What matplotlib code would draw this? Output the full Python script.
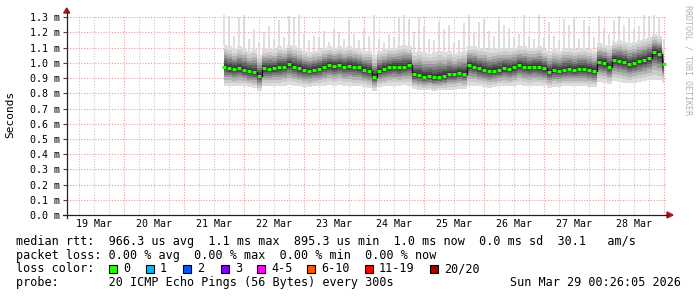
import numpy as np
import matplotlib
matplotlib.use("Agg")
import matplotlib.pyplot as plt
from matplotlib.patches import Polygon, Rectangle

# time axis: hours since 19 Mar 00:00, one value every 2 hours (21 Mar 16:00 .. 29 Mar 00:00)
hours = np.arange(64, 241, 2)

# median rtt (ms)
rtt_median = [
    0.975, 0.965, 0.960, 0.965, 0.955, 0.945, 0.940, 0.915, 0.965, 0.960,
    0.965, 0.970, 0.975, 0.990, 0.975, 0.965, 0.955, 0.950, 0.955, 0.960,
    0.975, 0.985, 0.980, 0.985, 0.975, 0.980, 0.975, 0.970, 0.955, 0.950,
    0.910, 0.950, 0.960, 0.970, 0.975, 0.970, 0.975, 0.985, 0.925, 0.920,
    0.910, 0.915, 0.905, 0.910, 0.915, 0.925, 0.925, 0.935, 0.930, 0.985,
    0.975, 0.965, 0.955, 0.945, 0.950, 0.955, 0.965, 0.960, 0.970, 0.985,
    0.975, 0.970, 0.975, 0.970, 0.965, 0.940, 0.955, 0.950, 0.955, 0.960,
    0.955, 0.960, 0.960, 0.955, 0.945, 1.005, 1.000, 0.975, 1.020, 1.015,
    1.005, 0.990, 1.000, 1.010, 1.020, 1.035, 1.070, 1.060, 0.990,
]
# lowest ping of the smoke (ms)
rtt_low = [
    0.845, 0.850, 0.845, 0.850, 0.845, 0.840, 0.835, 0.815, 0.845, 0.850,
    0.850, 0.845, 0.850, 0.855, 0.850, 0.845, 0.840, 0.840, 0.845, 0.850,
    0.850, 0.855, 0.850, 0.855, 0.850, 0.850, 0.845, 0.845, 0.840, 0.835,
    0.815, 0.840, 0.845, 0.850, 0.850, 0.850, 0.855, 0.850, 0.830, 0.825,
    0.820, 0.820, 0.815, 0.820, 0.820, 0.825, 0.825, 0.830, 0.830, 0.850,
    0.850, 0.845, 0.840, 0.835, 0.840, 0.845, 0.850, 0.845, 0.850, 0.855,
    0.850, 0.845, 0.850, 0.850, 0.845, 0.835, 0.840, 0.840, 0.845, 0.845,
    0.845, 0.845, 0.845, 0.840, 0.840, 0.875, 0.870, 0.860, 0.880, 0.875,
    0.870, 0.865, 0.870, 0.875, 0.880, 0.885, 0.890, 0.885, 0.870,
]
# upper edge of the dense smoke (ms)
rtt_high = [
    1.12, 1.11, 1.09, 1.11, 1.10, 1.08, 1.09, 1.05, 1.09, 1.10,
    1.09, 1.11, 1.10, 1.12, 1.11, 1.10, 1.08, 1.07, 1.08, 1.09,
    1.10, 1.11, 1.10, 1.11, 1.10, 1.11, 1.10, 1.09, 1.08, 1.08,
    1.05, 1.08, 1.09, 1.10, 1.10, 1.11, 1.12, 1.11, 1.07, 1.08,
    1.07, 1.06, 1.07, 1.08, 1.07, 1.08, 1.06, 1.07, 1.08, 1.11,
    1.11, 1.10, 1.10, 1.09, 1.09, 1.10, 1.10, 1.10, 1.10, 1.11,
    1.11, 1.10, 1.10, 1.11, 1.09, 1.08, 1.09, 1.08, 1.10, 1.10,
    1.09, 1.10, 1.10, 1.09, 1.08, 1.13, 1.12, 1.11, 1.14, 1.15,
    1.14, 1.13, 1.14, 1.15, 1.16, 1.17, 1.19, 1.18, 1.10,
]
# highest ping (spikes, ms)
rtt_max = [
    1.32, 1.31, 1.18, 1.30, 1.32, 1.16, 1.22, 1.14, 1.20, 1.24,
    1.16, 1.28, 1.17, 1.31, 1.30, 1.32, 1.19, 1.15, 1.18, 1.17,
    1.21, 1.14, 1.22, 1.20, 1.16, 1.28, 1.19, 1.15, 1.22, 1.18,
    1.32, 1.16, 1.14, 1.19, 1.17, 1.30, 1.32, 1.29, 1.20, 1.30,
    1.24, 1.16, 1.15, 1.27, 1.22, 1.25, 1.14, 1.15, 1.26, 1.32,
    1.20, 1.27, 1.29, 1.21, 1.18, 1.28, 1.25, 1.23, 1.17, 1.19,
    1.32, 1.18, 1.16, 1.32, 1.17, 1.27, 1.18, 1.15, 1.29, 1.25,
    1.30, 1.16, 1.28, 1.24, 1.17, 1.31, 1.22, 1.19, 1.28, 1.31,
    1.25, 1.30, 1.22, 1.24, 1.32, 1.31, 1.32, 1.30, 1.16,
]

day_labels = ['19 Mar', '20 Mar', '21 Mar', '22 Mar', '23 Mar',
              '24 Mar', '25 Mar', '26 Mar', '27 Mar', '28 Mar']
y_ticks = [0.0, 0.1, 0.2, 0.3, 0.4, 0.5, 0.6, 0.7, 0.8, 0.9, 1.0, 1.1, 1.2, 1.3]

loss_labels = ['0', '1', '2', '3', '4-5', '6-10', '11-19', '20/20']
loss_colors = ['#26ff00', '#00b8ff', '#0059ff', '#7e00ff', '#ff00ff', '#ff5500', '#ff0000', '#a10000']
loss_box_x = [109, 146, 183, 221, 257, 307, 365, 430]

W, H = 697, 297
MONO = 'DejaVu Sans Mono'


def fx(x):
    return x / W


def fy(y):
    return 1 - y / H


fig = plt.figure(figsize=(W / 100, H / 100), dpi=100, facecolor='white')
ax = fig.add_axes([fx(66.7), fy(215), 600 / W, 200 / H])
ax.set_xlim(0.97, 240.97)
ax.set_ylim(0, 1.315)
for s in ax.spines.values():
    s.set_visible(False)

# grid
for h in range(6, 241, 6):
    if h % 24 == 0:
        ax.axvline(h, color='#e8a0a0', lw=0.8, ls=(0, (1, 1.5)), zorder=0)
    else:
        ax.axvline(h, color='#c8c8c8', lw=0.8, ls=(0, (1, 1.5)), zorder=0)
for v in y_ticks[1:]:
    ax.axhline(v, color='#e8a0a0', lw=0.8, ls=(0, (1, 1.5)), zorder=0)

# smoke
med = np.array(rtt_median)
lo = np.array(rtt_low)
hi = np.array(rtt_high)
ax.vlines(hours, hi, rtt_max, color='#d6d6d6', lw=1.1, zorder=1)
fracs = [1.0, 0.82, 0.66, 0.52, 0.4, 0.29, 0.19, 0.1]
shades = ['#dddddd', '#cbcbcb', '#b3b3b3', '#989898', '#7d7d7d', '#636363', '#4a4a4a', '#363636']
for f, c in zip(fracs, shades):
    ax.fill_between(hours, med - f * (med - lo), med + f * (hi - med),
                    step='mid', color=c, lw=0, zorder=2)

# median
ax.step(hours, med, where='mid', color='#111111', lw=0.9, zorder=3)
ax.hlines(med, hours - 0.75, hours + 0.75, color='#26ff00', lw=2.2, zorder=4)

# ticks
ax.set_xticks([24 * d + 12 for d in range(len(day_labels))])
ax.set_xticklabels(day_labels, family=MONO, fontsize=7.2)
ax.tick_params(axis='x', length=0, pad=3)
ax.set_yticks(y_ticks)
ax.set_yticklabels([f'{v:.1f} m' for v in y_ticks], family=MONO, fontsize=7.2)
ax.tick_params(axis='y', length=3, width=0.8, color='#444444', pad=2)

# axes lines and arrows
fig.add_artist(plt.Line2D([fx(63), fx(668)], [fy(215), fy(215)], color='#222222', lw=0.9))
fig.add_artist(plt.Line2D([fx(66.7), fx(66.7)], [fy(218), fy(12)], color='#222222', lw=0.9))
arrow_c = '#a01818'
fig.add_artist(Polygon([[fx(63.7), fy(13)], [fx(69.7), fy(13)], [fx(66.7), fy(8)]],
                       closed=True, color=arrow_c, transform=fig.transFigure))
fig.add_artist(Polygon([[fx(667), fy(212)], [fx(667), fy(218)], [fx(673), fy(215)]],
                       closed=True, color=arrow_c, transform=fig.transFigure))

# side texts
fig.text(fx(10), fy(114), 'Seconds', rotation=90, family=MONO, fontsize=8,
         ha='center', va='center')
fig.text(fx(688), fy(60), 'RRDTOOL / TOBI OETIKER', rotation=270, family=MONO,
         fontsize=6, color='#b0b0b0', ha='center', va='center')

# legend rows
rows = [
    'median rtt:  966.3 us avg  1.1 ms max  895.3 us min  1.0 ms now  0.0 ms sd  30.1   am/s',
    'packet loss: 0.00 % avg  0.00 % max  0.00 % min  0.00 % now',
    'loss color:',
    'probe:       20 ICMP Echo Pings (56 Bytes) every 300s',
]
row_y = [241.5, 255.2, 268.8, 282.8]
for txt, y in zip(rows, row_y):
    fig.text(fx(16), fy(y), txt, family=MONO, fontsize=8.45, ha='left', va='center')
fig.text(fx(681), fy(row_y[3]), 'Sun Mar 29 00:26:05 2026', family=MONO, fontsize=8.45,
         ha='right', va='center')

for bx, lab, col in zip(loss_box_x, loss_labels, loss_colors):
    fig.add_artist(Rectangle((fx(bx), fy(273)), 8 / W, 8 / H, facecolor=col,
                             edgecolor='black', lw=0.8, transform=fig.transFigure))
    fig.text(fx(bx + 14), fy(row_y[2]), lab, family=MONO, fontsize=8.45,
             ha='left', va='center')

fig.savefig('out.png', dpi=100, facecolor='white')
